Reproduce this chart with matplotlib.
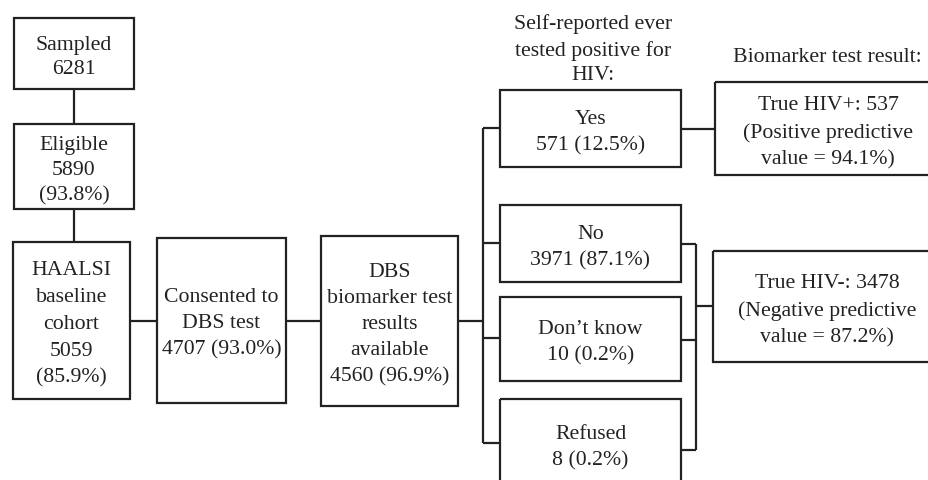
import matplotlib.pyplot as plt
from matplotlib.patches import Rectangle

# counts
sampled = 6281
eligible, eligible_pct = 5890, 93.8
cohort, cohort_pct = 5059, 85.9
consented, consented_pct = 4707, 93.0
dbs, dbs_pct = 4560, 96.9
self_report = ["Yes", "No", "Don\u2019t know", "Refused"]
self_counts = [571, 3971, 10, 8]
self_pcts = [12.5, 87.1, 0.2, 0.2]
true_pos, ppv = 537, 94.1
true_neg, npv = 3478, 87.2

plt.rcParams['font.family'] = ['Liberation Serif', 'DejaVu Serif']
ink = '#222222'
fs = 15.7
lw = 1.6

fig = plt.figure(figsize=(9.29, 4.81), dpi=100)
ax = fig.add_axes([0, 0, 1, 1])
ax.set_xlim(0, 929)
ax.set_ylim(481, 0)
ax.axis('off')


def box(x0, y0, x1, y1, text, tx=None, ty=None, ls=1.5):
    ax.add_patch(Rectangle((x0, y0), x1 - x0, y1 - y0, fill=False,
                           edgecolor=ink, linewidth=lw, clip_on=False))
    if tx is None:
        tx = (x0 + x1) / 2
    if ty is None:
        ty = (y0 + y1) / 2
    # matplotlib centres on the glyph box incl. descenders, nudge down a bit
    ax.text(tx, ty + 3, text, ha='center', va='center', fontsize=fs,
            color=ink, linespacing=ls)


def line(xs, ys):
    ax.plot(xs, ys, color=ink, linewidth=lw, solid_capstyle='butt')


# left column
box(14, 19, 134, 90, f"Sampled\n{sampled}", ls=1.42)
line([74, 74], [90, 125])
box(14, 125, 134, 210, f"Eligible\n{eligible}\n({eligible_pct}%)", ls=1.45)
line([74, 74], [210, 243])
box(13, 243, 130, 400, f"HAALSI\nbaseline\ncohort\n{cohort}\n({cohort_pct}%)", ls=1.55)
line([130, 157], [322, 322])
box(157, 239, 286, 404, f"Consented to\nDBS test\n{consented} ({consented_pct}%)", ty=321)
line([286, 321], [322, 322])
box(321, 237, 458, 407, f"DBS\nbiomarker test\nresults\navailable\n{dbs} ({dbs_pct}%)")
line([458, 483], [322, 322])

# self-reported branch
ax.text(593, 50, "Self-reported ever\ntested positive for\nHIV:", ha='center',
        va='center', fontsize=fs, color=ink, linespacing=1.42)
tops = [91, 206, 298, 400]
bottoms = [168, 283, 382, 490]
branch_y = [129, 244, 339, 444]
ty_list = [None, None, None, 445]
line([483, 483], [branch_y[0], branch_y[-1]])
for lab, n, p, t, b, by, ty in zip(self_report, self_counts, self_pcts,
                                  tops, bottoms, branch_y, ty_list):
    line([483, 500], [by, by])
    box(500, t, 681, b, f"{lab}\n{n} ({p}%)", ty=ty)

# biomarker results
ax.text(827, 57, "Biomarker test result:", ha='center', va='center',
        fontsize=fs, color=ink)
line([681, 715], [130, 130])
box(715, 83, 940, 176, f"True HIV+: {true_pos}\n(Positive predictive\nvalue = {ppv}%)",
    tx=828, ty=130, ls=1.55)
line([681, 696], [245, 245])
line([681, 696], [341, 341])
line([681, 696], [451, 451])
line([696, 696], [245, 451])
line([696, 713], [307, 307])
box(713, 252, 940, 363, f"True HIV-: {true_neg}\n(Negative predictive\nvalue = {npv}%)",
    tx=827, ty=308, ls=1.55)

fig.savefig("out.png", dpi=100)
